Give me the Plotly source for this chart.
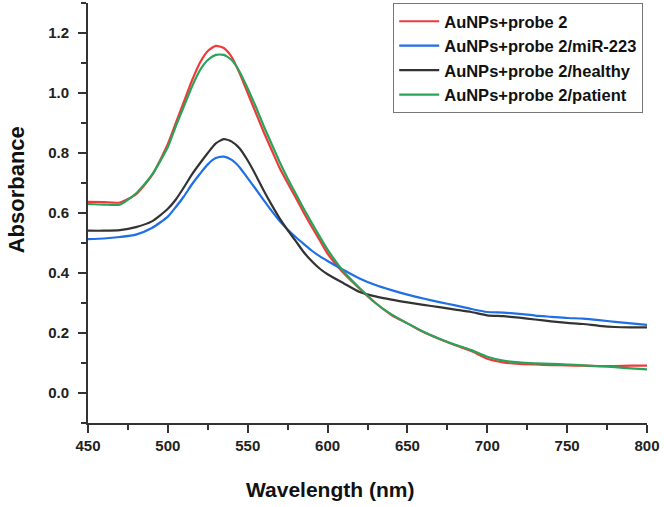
import plotly.graph_objects as go

wavelength = [450, 460, 470, 480, 490, 500, 505, 510, 515, 520, 525, 530, 535, 540, 545,
              550, 555, 560, 565, 570, 575, 580, 585, 590, 595, 600, 610, 620, 630, 640,
              650, 660, 670, 680, 690, 700, 710, 720, 730, 740, 750, 760, 770, 780, 790, 800]

probe2 = [0.637, 0.636, 0.635, 0.662, 0.725, 0.830, 0.900, 0.970, 1.040, 1.100, 1.140, 1.157,
          1.150, 1.120, 1.065, 1.000, 0.935, 0.870, 0.810, 0.750, 0.700, 0.652, 0.602, 0.555,
          0.510, 0.465, 0.400, 0.348, 0.300, 0.260, 0.232, 0.203, 0.180, 0.159, 0.140, 0.114,
          0.102, 0.097, 0.095, 0.093, 0.092, 0.091, 0.090, 0.090, 0.091, 0.091]

mir223 = [0.513, 0.515, 0.520, 0.528, 0.550, 0.588, 0.620, 0.655, 0.695, 0.730, 0.762, 0.783,
          0.788, 0.777, 0.752, 0.716, 0.680, 0.643, 0.607, 0.573, 0.545, 0.520, 0.497, 0.475,
          0.456, 0.440, 0.410, 0.382, 0.360, 0.343, 0.328, 0.315, 0.303, 0.292, 0.280, 0.270,
          0.268, 0.264, 0.258, 0.254, 0.250, 0.248, 0.243, 0.237, 0.232, 0.227]

healthy = [0.541, 0.541, 0.543, 0.553, 0.572, 0.614, 0.645, 0.685, 0.728, 0.765, 0.800, 0.832,
           0.846, 0.838, 0.815, 0.775, 0.727, 0.675, 0.627, 0.582, 0.543, 0.507, 0.470, 0.440,
           0.415, 0.396, 0.366, 0.337, 0.322, 0.311, 0.302, 0.294, 0.286, 0.278, 0.270, 0.259,
           0.256, 0.251, 0.245, 0.239, 0.234, 0.230, 0.224, 0.220, 0.219, 0.219]

patient = [0.630, 0.628, 0.628, 0.665, 0.727, 0.820, 0.890, 0.955, 1.020, 1.075, 1.110, 1.127,
           1.127, 1.110, 1.070, 1.015, 0.955, 0.890, 0.830, 0.770, 0.715, 0.665, 0.615, 0.568,
           0.522, 0.478, 0.405, 0.350, 0.300, 0.262, 0.232, 0.204, 0.181, 0.161, 0.143, 0.121,
           0.108, 0.102, 0.099, 0.097, 0.095, 0.092, 0.089, 0.086, 0.082, 0.079]

names = ["AuNPs+probe 2", "AuNPs+probe 2/miR-223", "AuNPs+probe 2/healthy", "AuNPs+probe 2/patient"]
colors = ["#f03a3a", "#1f6fe5", "#333333", "#2aa35a"]
series = [probe2, mir223, healthy, patient]

FONT = "Arial, Liberation Sans, sans-serif"

fig = go.Figure()
for name, col, ys in zip(names, colors, series):
    fig.add_trace(go.Scatter(x=wavelength, y=ys, mode="lines", name=name,
                             line=dict(color=col, width=2.2, shape="spline", smoothing=0.6)))

axis_common = dict(showline=True, linecolor="#333333", linewidth=2, ticks="outside",
                   tickcolor="#333333", tickwidth=1.5, showgrid=False, zeroline=False, ticklen=8,
                   tickfont=dict(family=FONT, size=15, color="#222222", weight="bold"))
minor_common = dict(ticklen=5, ticks="outside", tickcolor="#333333", tickwidth=1.5)

fig.update_xaxes(range=[450, 800], dtick=50, tick0=450,
                 minor=dict(dtick=25, **minor_common), **axis_common)
fig.update_yaxes(range=[-0.1, 1.3], dtick=0.2, tick0=0, tickformat=".1f", ticklabelstandoff=6,
                 minor=dict(dtick=0.1, **minor_common), **axis_common)

fig.update_layout(
    width=664, height=507,
    margin=dict(l=88, r=17, t=3, b=84),
    paper_bgcolor="white", plot_bgcolor="white",
    showlegend=True,
    legend=dict(x=0.546, y=1.0, xanchor="left", yanchor="top", itemwidth=40,
                bordercolor="#777777", borderwidth=1, bgcolor="white",
                font=dict(family=FONT, size=16.5, color="#111111", weight="bold")),
    annotations=[
        dict(text="Wavelength (nm)", xref="paper", yref="paper", x=0.433, y=-0.158,
             xanchor="center", yanchor="middle", showarrow=False,
             font=dict(family=FONT, size=21, color="#111111", weight="bold")),
        dict(text="Absorbance", xref="paper", yref="paper", x=-0.128, y=0.555,
             xanchor="center", yanchor="middle", showarrow=False, textangle=-90,
             font=dict(family=FONT, size=22, color="#111111", weight="bold")),
    ],
)

fig.write_html("out.html", config={"displayModeBar": False},
               post_script="document.body.style.margin='0';")
